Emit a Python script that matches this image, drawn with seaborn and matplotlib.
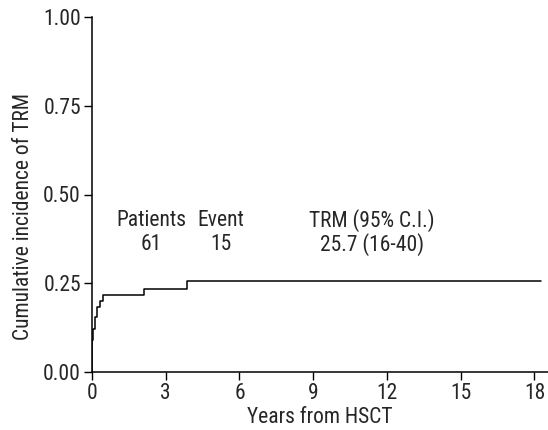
import matplotlib
matplotlib.use("Agg")
import matplotlib.pyplot as plt
import seaborn as sns
import pandas as pd

# Data
years = [0.0, 0.01, 0.05, 0.12, 0.22, 0.33, 0.43, 2.11, 3.85, 18.27]
cum_incidence = [0.0, 0.09, 0.12, 0.155, 0.184, 0.20, 0.217, 0.233, 0.257, 0.257]
x_ticks = [0, 3, 6, 9, 12, 15, 18]
y_ticks = [0.0, 0.25, 0.5, 0.75, 1.0]
y_tick_labels = ["0.00", "0.25", "0.50", "0.75", "1.00"]
table_headers = ["Patients", "Event", "TRM (95% C.I.)"]
table_values = ["61", "15", "25.7 (16-40)"]

sns.set_theme(style="ticks")
plt.rcParams["font.family"] = ["Roboto Condensed", "Archivo Narrow", "DejaVu Sans"]

fig = plt.figure(figsize=(5.48, 4.30), dpi=100)
ax = fig.add_axes([92 / 548, (430 - 372) / 430, 1 - 92 / 548, (372 - 17) / 430])

df = pd.DataFrame({"years": years, "ci": cum_incidence})
sns.lineplot(data=df, x="years", y="ci", drawstyle="steps-post", color="black",
             linewidth=1.1, ax=ax, estimator=None)

ax.set_xlim(0, 18.55)
ax.set_ylim(0, 1.0)
ax.set_xticks(x_ticks)
ax.set_xticklabels([str(t) for t in x_ticks])
ax.set_yticks(y_ticks)
ax.set_yticklabels(y_tick_labels)
ax.tick_params(axis="both", labelsize=15.5, length=6, width=1, color="black",
               labelcolor="#262626", pad=2)
for s in ["top", "right"]:
    ax.spines[s].set_visible(False)
for s in ["left", "bottom"]:
    ax.spines[s].set_linewidth(1.1)
    ax.spines[s].set_color("black")

ax.set_xlabel("Years from HSCT", fontsize=15.5, color="#262626", labelpad=2)
ax.set_ylabel("Cumulative incidence of TRM", fontsize=15.5, color="#262626")
ax.yaxis.set_label_coords(-0.128, 0.437)

col_x = [2.4, 5.24, 11.4]
for cx, h, v in zip(col_x, table_headers, table_values):
    ax.text(cx, 0.428, h, ha="center", va="center", fontsize=15.5, color="#262626")
    ax.text(cx, 0.358, v, ha="center", va="center", fontsize=15.5, color="#262626")

fig.savefig("out.png", dpi=100)
